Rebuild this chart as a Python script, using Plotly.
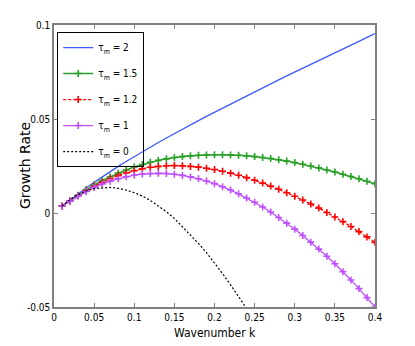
import plotly.graph_objects as go

k = [round(0.01 * i, 2) for i in range(1, 41)]

tau2 = [0.0037, 0.0070, 0.0102, 0.0133, 0.0163, 0.0192, 0.0220, 0.0248, 0.0274, 0.0300,
        0.0326, 0.0350, 0.0375, 0.0399, 0.0423, 0.0446, 0.0469, 0.0491, 0.0514, 0.0536,
        0.0558, 0.0580, 0.0602, 0.0623, 0.0645, 0.0666, 0.0687, 0.0708, 0.0729, 0.0749,
        0.0770, 0.0791, 0.0811, 0.0832, 0.0852, 0.0873, 0.0893, 0.0913, 0.0934, 0.0954]

tau15 = [0.0037, 0.0065, 0.0095, 0.0125, 0.0150, 0.0173, 0.0193, 0.0212, 0.0229, 0.0245,
         0.0258, 0.0270, 0.0280, 0.0288, 0.0295, 0.0300, 0.0304, 0.0307, 0.0309, 0.0310,
         0.0310, 0.0309, 0.0307, 0.0304, 0.0300, 0.0295, 0.0290, 0.0283, 0.0276, 0.0268,
         0.0259, 0.0250, 0.0240, 0.0229, 0.0218, 0.0206, 0.0194, 0.0182, 0.0169, 0.0156]

tau12 = [0.0037, 0.0064, 0.0092, 0.0118, 0.0142, 0.0163, 0.0182, 0.0199, 0.0213, 0.0225,
         0.0235, 0.0243, 0.0248, 0.0251, 0.0252, 0.0251, 0.0248, 0.0244, 0.0238, 0.0231,
         0.0222, 0.0212, 0.0201, 0.0188, 0.0174, 0.0159, 0.0143, 0.0126, 0.0108, 0.0089,
         0.0069, 0.0048, 0.0026, 0.0003, -0.0021, -0.0046, -0.0072, -0.0099, -0.0127, -0.0156]

tau1 = [0.0037, 0.0063, 0.0090, 0.0114, 0.0136, 0.0154, 0.0169, 0.0182, 0.0193, 0.0201,
        0.0207, 0.0210, 0.0211, 0.0210, 0.0206, 0.0200, 0.0192, 0.0182, 0.0170, 0.0156,
        0.0140, 0.0122, 0.0102, 0.0080, 0.0057, 0.0032, 0.0005, -0.0024, -0.0054, -0.0086,
        -0.0120, -0.0155, -0.0192, -0.0230, -0.0270, -0.0312, -0.0356, -0.0402, -0.0450, -0.0500]

k0 = k[:24]
tau0 = [0.0037, 0.0072, 0.0098, 0.0118, 0.0130, 0.0135, 0.0136, 0.0131, 0.0122, 0.0108,
        0.0090, 0.0067, 0.0039, 0.0007, -0.0029, -0.0072, -0.0117, -0.0162, -0.0211, -0.0265,
        -0.0322, -0.0382, -0.0444, -0.0508]

x_ticks = [0, 0.05, 0.1, 0.15, 0.2, 0.25, 0.3, 0.35, 0.4]
x_tick_labels = ["0", "0.05", "0.1", "0.15", "0.2", "0.25", "0.3", "0.35", "0.4"]
y_ticks = [-0.05, 0, 0.05, 0.1]
y_tick_labels = ["-0.05", "0", "0.05", "0.1"]

names = ["τ<sub>m</sub> = 2", "τ<sub>m</sub> = 1.5", "τ<sub>m</sub> = 1.2",
         "τ<sub>m</sub> = 1", "τ<sub>m</sub> = 0"]

narrow = "Liberation Sans Narrow, DejaVu Sans Condensed, Arial Narrow, Liberation Sans, sans-serif"

fig = go.Figure()
fig.add_trace(go.Scatter(x=k, y=tau2, name=names[0], mode="lines", legendgroup="a",
                         line=dict(color="rgb(60,90,255)", width=1.3)))
fig.add_trace(go.Scatter(x=k, y=tau15, name=names[1], mode="lines+markers", legendgroup="b",
                         line=dict(color="rgb(40,160,40)", width=1.5),
                         marker=dict(symbol="cross-thin-open", size=5,
                                     line=dict(color="rgb(60,165,60)", width=1.6))))
fig.add_trace(go.Scatter(x=k, y=tau12, name=names[2], mode="lines+markers", legendgroup="c",
                         line=dict(color="rgb(255,0,0)", width=1.3, dash="3px,2px"),
                         marker=dict(symbol="cross-thin-open", size=5,
                                     line=dict(color="rgb(255,20,20)", width=1.6))))
fig.add_trace(go.Scatter(x=k, y=tau1, name=names[3], mode="lines+markers", legendgroup="d",
                         line=dict(color="rgb(190,80,255)", width=1.3),
                         marker=dict(symbol="cross-thin-open", size=5,
                                     line=dict(color="rgb(200,110,255)", width=1.6))))
fig.add_trace(go.Scatter(x=k0, y=tau0, name=names[4], mode="lines", legendgroup="e",
                         line=dict(color="black", width=1.2, dash="2px,2px")))

axis_common = dict(showgrid=False, zeroline=False, showline=True, mirror="ticks",
                   linecolor="rgb(128,128,128)", linewidth=1.5, ticks="inside",
                   ticklen=4, tickcolor="rgb(128,128,128)",
                   tickfont=dict(family=narrow, size=10, color="black"))

fig.update_xaxes(range=[0, 0.4], tickvals=x_ticks, ticktext=x_tick_labels, **axis_common)
fig.update_yaxes(range=[-0.05, 0.1], tickvals=y_ticks, ticktext=y_tick_labels, **axis_common)

fig.add_annotation(text="Growth Rate", xref="paper", yref="paper",
                   x=(25 - 54) / 321, y=0.5, xanchor="center", yanchor="middle",
                   textangle=-90, showarrow=False,
                   font=dict(family="DejaVu Sans, Verdana, sans-serif", size=14, color="black"))
fig.add_annotation(text="Wavenumber k", xref="paper", yref="paper",
                   x=(215 - 54) / 321, y=-26 / 282, xanchor="center", yanchor="middle",
                   showarrow=False,
                   font=dict(family=narrow, size=12, color="black"))

# page body has an 8px margin, so the figure is 8px smaller and margins shifted
fig.update_layout(
    width=407, height=338,
    margin=dict(l=46, r=40, t=17, b=39),
    plot_bgcolor="white", paper_bgcolor="white",
    showlegend=True,
    legend=dict(x=0.01, y=0.975, xanchor="left", yanchor="top",
                bgcolor="rgba(255,255,255,0)", bordercolor="black", borderwidth=1,
                font=dict(family=narrow, size=10, color="black"),
                itemwidth=30, tracegroupgap=7, traceorder="grouped"),
)

fig.write_html("out.html")
